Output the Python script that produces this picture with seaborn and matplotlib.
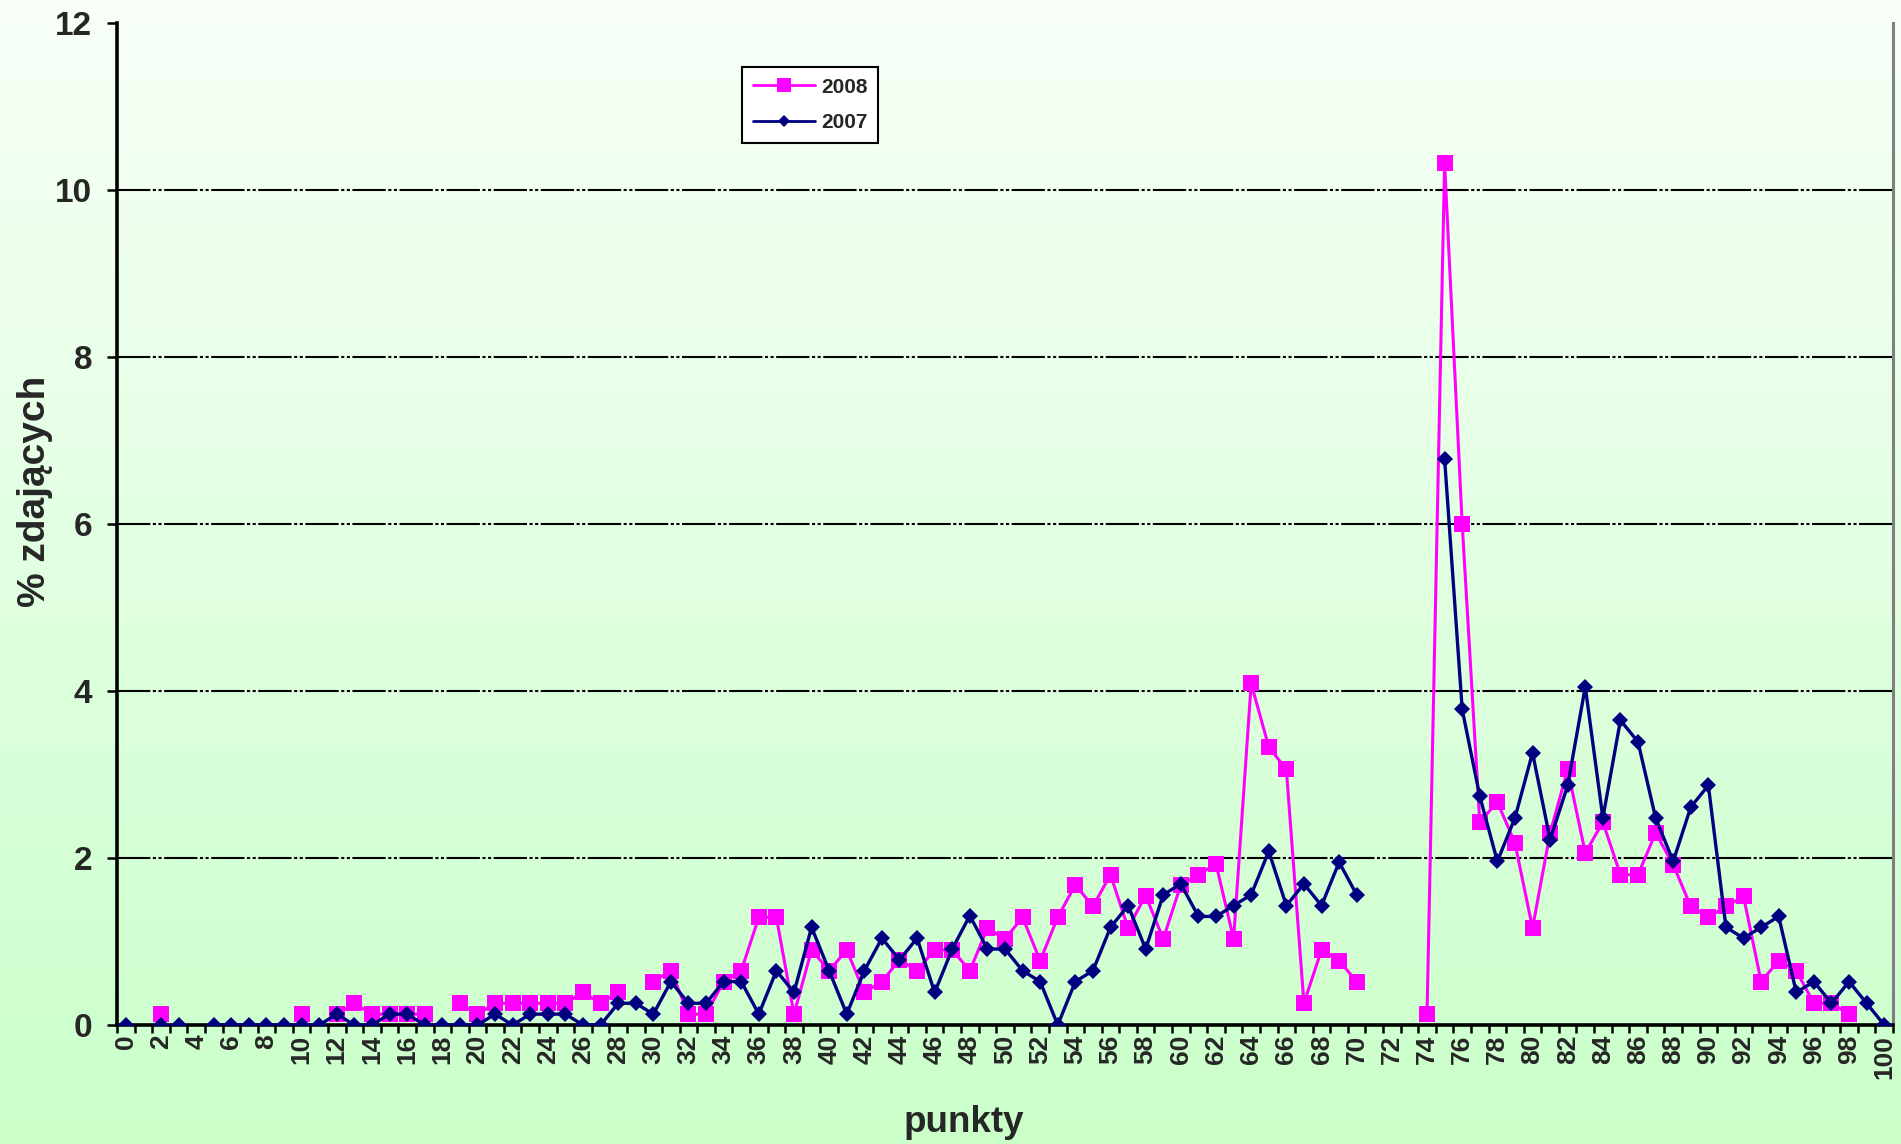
import numpy as np
import pandas as pd
import matplotlib
matplotlib.use("Agg")
import matplotlib.pyplot as plt
from matplotlib.lines import Line2D
import seaborn as sns

nan = np.nan

# ---------------- data ----------------
points = list(range(0, 101))

pct_2008 = [
    nan, nan, 0.13, nan, nan, nan, nan, nan, nan, nan,        # 0-9
    0.13, nan, 0.13, 0.26, 0.13, 0.13, 0.13, 0.13, nan, 0.26,  # 10-19
    0.13, 0.26, 0.26, 0.26, 0.26, 0.26, 0.39, 0.26, 0.39, nan,  # 20-29
    0.52, 0.65, 0.13, 0.13, 0.52, 0.65, 1.29, 1.29, 0.13, 0.90,  # 30-39
    0.65, 0.90, 0.39, 0.52, 0.78, 0.65, 0.90, 0.90, 0.65, 1.16,  # 40-49
    1.03, 1.29, 0.77, 1.29, 1.68, 1.42, 1.80, 1.16, 1.55, 1.03,  # 50-59
    1.68, 1.80, 1.93, 1.03, 4.09, 3.33, 3.06, 0.26, 0.90, 0.77,  # 60-69
    0.52, nan, nan, nan, 0.13, 10.32, 6.00, 2.43, 2.67, 2.18,    # 70-79
    1.16, 2.30, 3.06, 2.06, 2.43, 1.80, 1.80, 2.30, 1.92, 1.42,  # 80-89
    1.29, 1.42, 1.54, 0.52, 0.77, 0.65, 0.26, 0.26, 0.13, nan,   # 90-99
    nan,                                                         # 100
]

pct_2007 = [
    0.00, nan, 0.00, 0.00, nan, 0.00, 0.00, 0.00, 0.00, 0.00,    # 0-9
    0.00, 0.00, 0.13, 0.00, 0.00, 0.13, 0.13, 0.00, 0.00, 0.00,  # 10-19
    0.00, 0.13, 0.00, 0.13, 0.13, 0.13, 0.00, 0.00, 0.26, 0.26,  # 20-29
    0.13, 0.52, 0.26, 0.26, 0.52, 0.52, 0.13, 0.65, 0.39, 1.17,  # 30-39
    0.65, 0.13, 0.65, 1.04, 0.78, 1.04, 0.39, 0.91, 1.31, 0.91,  # 40-49
    0.91, 0.65, 0.52, 0.00, 0.52, 0.65, 1.17, 1.43, 0.91, 1.56,  # 50-59
    1.69, 1.30, 1.30, 1.43, 1.56, 2.08, 1.43, 1.69, 1.43, 1.95,  # 60-69
    1.56, nan, nan, nan, nan, 6.78, 3.78, 2.74, 1.96, 2.48,      # 70-79
    3.26, 2.22, 2.87, 4.05, 2.48, 3.65, 3.39, 2.48, 1.96, 2.61,  # 80-89
    2.87, 1.17, 1.04, 1.17, 1.30, 0.39, 0.52, 0.26, 0.52, 0.26,  # 90-99
    0.00,                                                        # 100
]

series_labels = ["2008", "2007"]
x_tick_values = list(range(0, 101, 2))
x_tick_labels = [str(v) for v in x_tick_values]
y_tick_values = [0, 2, 4, 6, 8, 10, 12]
y_tick_labels = [str(v) for v in y_tick_values]
x_title = "punkty"
y_title = "% zdających"

# ---------------- style ----------------
sns.set_style("ticks")
plt.rcParams['font.family'] = ['Liberation Sans', 'DejaVu Sans']
plt.rcParams['font.weight'] = 'bold'

COL_2008 = "#FF00FF"
COL_2007 = "#000080"


def to_segments(x, y):
    rows = []
    seg = 0
    gap = True
    for xi, yi in zip(x, y):
        if yi is None or np.isnan(yi):
            gap = True
            continue
        if gap:
            seg += 1
            gap = False
        rows.append((xi, yi, seg))
    return pd.DataFrame(rows, columns=["punkty", "pct", "seg"])


df08 = to_segments(points, pct_2008)
df07 = to_segments(points, pct_2007)

fig = plt.figure(figsize=(19.01, 11.44), dpi=100)

# background gradient (figure-wide)
bg = fig.add_axes([0, 0, 1, 1], zorder=-10)
n = 256
t = np.linspace(0, 1, n)[:, None]
top = np.array([248, 255, 248]) / 255.0
bot = np.array([202, 255, 202]) / 255.0
grad = (top[None, None, :] * (1 - t[:, :, None]) + bot[None, None, :] * t[:, :, None])
bg.imshow(grad, aspect="auto", extent=[0, 1, 0, 1], origin="upper")
bg.set_axis_off()

L, R = 117 / 1901, 1893 / 1901
B, T = (1144 - 1025) / 1144, (1144 - 23) / 1144
ax = fig.add_axes([L, B, R - L, T - B])
ax.set_facecolor("none")

# grid lines (dash-dot-dot)
for yv in y_tick_values[1:-1]:
    ax.axhline(yv, color="black", lw=1.5, zorder=1,
               linestyle=(0, (16, 1.2, 1.5, 1.2, 1.5, 1.2)))

sns.lineplot(data=df08, x="punkty", y="pct", units="seg", estimator=None,
             color=COL_2008, lw=2.2, marker="s", markersize=11.5, mew=0,
             sort=False, legend=False, ax=ax, zorder=3)
sns.lineplot(data=df07, x="punkty", y="pct", units="seg", estimator=None,
             color=COL_2007, lw=2.4, marker="D", markersize=7.8, mew=0,
             sort=False, legend=False, ax=ax, zorder=4)

ax.set_xlim(-0.5, 100.5)
ax.set_ylim(0, 12)

ax.set_xticks(x_tick_values)
ax.set_xticklabels(x_tick_labels, rotation=90, fontsize=19, fontweight="bold")
ax.set_xticks(np.arange(-0.5, 101, 1), minor=True)
ax.tick_params(axis="x", which="major", length=0, pad=7)
ax.tick_params(axis="x", which="minor", length=6, width=1.8, color="black")

ax.set_yticks(y_tick_values)
ax.set_yticklabels(y_tick_labels, fontsize=24, fontweight="bold")
ax.tick_params(axis="y", which="major", length=7, width=1.8, color="black", pad=11)

for side in ["left", "bottom"]:
    ax.spines[side].set_color("black")
    ax.spines[side].set_linewidth(2.6)
ax.spines["top"].set_visible(False)
ax.spines["right"].set_color("#808080")
ax.spines["right"].set_linewidth(2.2)

ax.set_xlabel(x_title, fontsize=26.5, fontweight="bold")
ax.set_ylabel(y_title, fontsize=28, fontweight="bold")
ax.xaxis.set_label_coords(0.477, -0.080)
ax.yaxis.set_label_coords(-0.036, 0.533)

handles = [
    Line2D([], [], color=COL_2008, lw=2, marker="s", markersize=10, mew=0),
    Line2D([], [], color=COL_2007, lw=2, marker="D", markersize=6.5, mew=0),
]
leg = ax.legend(handles, series_labels, loc="upper left",
                bbox_to_anchor=(0.352, 0.956), borderaxespad=0,
                frameon=True, fancybox=False, edgecolor="black",
                facecolor="white", framealpha=1,
                prop={"weight": "bold", "size": 15},
                handlelength=3.0, labelspacing=0.8, borderpad=0.5,
                handletextpad=0.3)
leg.get_frame().set_linewidth(1.5)

fig.savefig("out.png", dpi=100)
